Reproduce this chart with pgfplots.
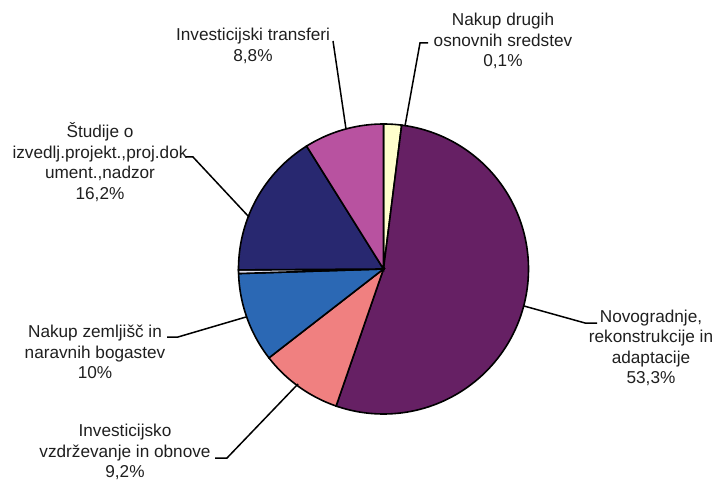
\documentclass[border=0pt]{standalone}
\usepackage{fontspec}
\setmainfont{Liberation Sans}
\usepackage{pgfplots}
\pgfplotsset{compat=1.18}
\definecolor{cYel}{RGB}{255,255,204}
\definecolor{cPur}{RGB}{102,32,100}
\definecolor{cPink}{RGB}{240,128,128}
\definecolor{cBlue}{RGB}{43,104,180}
\definecolor{cGrey}{RGB}{222,222,236}
\definecolor{cNavy}{RGB}{40,40,112}
\definecolor{cMag}{RGB}{184,82,160}
\tikzset{lbl/.style={font=\fontsize{17.2}{20.5}\selectfont, align=center, text=black!88}}
% slice values (percent, clockwise from top)
\def\vYel{2.0}\def\vPur{53.3}\def\vPink{9.2}\def\vBlue{10}\def\vGrey{0.4}\def\vNavy{16.2}\def\vMag{8.8}
\def\cx{383.5}\def\cy{269}\def\R{145}
\pgfmathsetmacro\aA{90}%
\pgfmathsetmacro\aB{\aA-3.6*\vYel}%
\pgfmathsetmacro\aC{\aB-3.6*\vPur}%
\pgfmathsetmacro\aD{\aC-3.6*\vPink}%
\pgfmathsetmacro\aE{\aD-3.6*\vBlue}%
\pgfmathsetmacro\aF{\aE-3.6*\vGrey}%
\pgfmathsetmacro\aG{\aF-3.6*\vNavy}%
\pgfmathsetmacro\aH{-270}%
\begin{document}%
\begin{tikzpicture}
\path[use as bounding box] (0,0) rectangle (718pt,481pt);
\begin{axis}[
  scale only axis, width=718pt, height=481pt,
  xmin=0, xmax=718, ymin=0, ymax=481, y dir=reverse,
  hide axis, clip=false,
  every axis plot/.append style={line width=1.6pt, draw=black, variable=\t},
]
\addplot[fill=cYel, domain=\aB:\aA, samples=10] ({\cx+\R*cos(\t)},{\cy-\R*sin(\t)}) -- (axis cs:\cx,\cy) -- cycle;
\addplot[fill=cPur, domain=\aC:\aB, samples=150] ({\cx+\R*cos(\t)},{\cy-\R*sin(\t)}) -- (axis cs:\cx,\cy) -- cycle;
\addplot[fill=cPink, domain=\aD:\aC, samples=40] ({\cx+\R*cos(\t)},{\cy-\R*sin(\t)}) -- (axis cs:\cx,\cy) -- cycle;
\addplot[fill=cBlue, domain=\aE:\aD, samples=40] ({\cx+\R*cos(\t)},{\cy-\R*sin(\t)}) -- (axis cs:\cx,\cy) -- cycle;
\addplot[fill=cGrey, domain=\aF:\aE, samples=5] ({\cx+\R*cos(\t)},{\cy-\R*sin(\t)}) -- (axis cs:\cx,\cy) -- cycle;
\addplot[fill=cNavy, domain=\aG:\aF, samples=60] ({\cx+\R*cos(\t)},{\cy-\R*sin(\t)}) -- (axis cs:\cx,\cy) -- cycle;
\addplot[fill=cMag, domain=\aH:\aG, samples=40] ({\cx+\R*cos(\t)},{\cy-\R*sin(\t)}) -- (axis cs:\cx,\cy) -- cycle;
% leader lines
\addplot[line width=1.5pt] coordinates {(333,41) (346,129)};
\addplot[line width=1.5pt] coordinates {(428,43) (420,43) (405,126)};
\addplot[line width=1.5pt] coordinates {(185,157) (193,157) (249,217)};
\addplot[line width=1.5pt] coordinates {(167,337) (178,337) (246,317)};
\addplot[line width=1.5pt] coordinates {(215,458) (227,458) (298,384)};
\addplot[line width=1.5pt] coordinates {(597,323) (585,323) (524,306)};
% labels
\node[lbl] at (axis cs:253,46) {Investicijski transferi\\8,8\%};
\node[lbl] at (axis cs:503,41) {Nakup drugih\\osnovnih sredstev\\0,1\%};
\node[lbl] at (axis cs:100,162) {Študije o\\izvedlj.projekt.,proj.dok\\ument.,nadzor\\16,2\%};
\node[lbl] at (axis cs:95,352) {Nakup zemljišč in\\naravnih bogastev\\10\%};
\node[lbl] at (axis cs:125,452) {Investicijsko\\vzdrževanje in obnove\\9,2\%};
\node[lbl] at (axis cs:651,348) {Novogradnje,\\rekonstrukcije in\\adaptacije\\53,3\%};
\end{axis}
\end{tikzpicture}%
\end{document}
